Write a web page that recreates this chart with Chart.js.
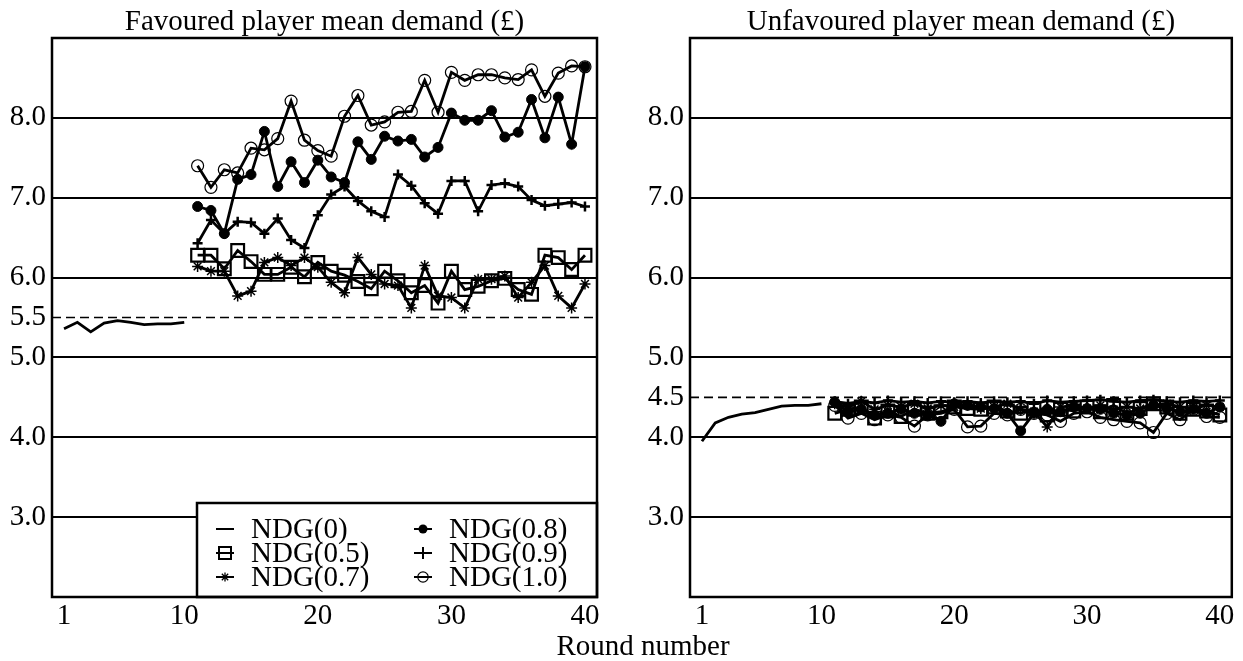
<!DOCTYPE html>
<html><head><meta charset="utf-8">
<script src="https://cdn.jsdelivr.net/npm/chart.js@4/dist/chart.umd.min.js"></script>
<style>
html,body{margin:0;padding:0;background:#fff;}
#wrap{position:relative;width:1243px;height:661px;overflow:hidden;background:#fff;}
#c1{position:absolute;left:0;top:0;}
#c2{position:absolute;left:640px;top:0;}
#xt{position:absolute;left:443px;width:400px;top:631px;text-align:center;font:29px/29px 'Liberation Serif',serif;color:#000;}
</style></head><body>
<div id="wrap">
<canvas id="c1" width="640" height="661"></canvas>
<canvas id="c2" width="603" height="661"></canvas>
<div id="xt">Round number</div>
</div>
<script>
// ---------- data ----------
const seriesLabels = ['NDG(0)', 'NDG(0.5)', 'NDG(0.7)', 'NDG(0.8)', 'NDG(0.9)', 'NDG(1.0)'];
const roundsBaseline = [1, 2, 3, 4, 5, 6, 7, 8, 9, 10];
const roundsTreatment = [11, 12, 13, 14, 15, 16, 17, 18, 19, 20, 21, 22, 23, 24, 25, 26, 27, 28, 29, 30, 31, 32, 33, 34, 35, 36, 37, 38, 39, 40];
const xTickValues = [1, 10, 20, 30, 40];
const favYTicks = [3, 4, 5, 5.5, 6, 7, 8];
const unfavYTicks = [3, 4, 4.5, 5, 6, 7, 8];
const favRef = 5.5;
const unfavRef = 4.5;

// Favoured player mean demand
const favNDG0  = [5.36, 5.44, 5.32, 5.43, 5.46, 5.44, 5.41, 5.42, 5.42, 5.44];
const favNDG05 = [6.28, 6.28, 6.11, 6.34, 6.20, 6.04, 6.04, 6.13, 6.01, 6.19, 6.08, 6.03, 5.95, 5.86, 6.08, 5.96, 5.81, 5.90, 5.68, 6.08, 5.85, 5.89, 5.96, 5.99, 5.85, 5.79, 6.28, 6.25, 6.10, 6.28];
const favNDG07 = [6.14, 6.08, 6.08, 5.77, 5.83, 6.19, 6.25, 6.15, 6.25, 6.13, 5.94, 5.81, 6.25, 6.04, 5.92, 5.90, 5.62, 6.15, 5.77, 5.75, 5.62, 5.98, 5.98, 6.02, 5.75, 5.94, 6.15, 5.77, 5.62, 5.92];
const favNDG08 = [6.89, 6.84, 6.55, 7.23, 7.29, 7.83, 7.14, 7.45, 7.19, 7.47, 7.26, 7.19, 7.70, 7.48, 7.77, 7.71, 7.73, 7.51, 7.63, 8.06, 7.97, 7.97, 8.09, 7.76, 7.82, 8.23, 7.75, 8.26, 7.67, 8.64];
const favNDG09 = [6.43, 6.72, 6.55, 6.70, 6.69, 6.55, 6.74, 6.47, 6.37, 6.78, 7.04, 7.14, 6.96, 6.83, 6.76, 7.29, 7.15, 6.93, 6.80, 7.21, 7.21, 6.83, 7.16, 7.18, 7.14, 6.97, 6.90, 6.92, 6.94, 6.89];
const favNDG10 = [7.40, 7.13, 7.35, 7.31, 7.62, 7.60, 7.74, 8.21, 7.72, 7.59, 7.52, 8.02, 8.28, 7.91, 7.95, 8.07, 8.08, 8.47, 8.07, 8.57, 8.47, 8.54, 8.54, 8.50, 8.48, 8.60, 8.27, 8.56, 8.65, 8.64];

// Unfavoured player mean demand
const unfNDG0  = [3.95, 4.18, 4.25, 4.29, 4.31, 4.35, 4.39, 4.40, 4.40, 4.42];
const unfNDG05 = [4.30, 4.35, 4.38, 4.24, 4.33, 4.26, 4.35, 4.30, 4.32, 4.38, 4.36, 4.35, 4.38, 4.33, 4.30, 4.36, 4.28, 4.35, 4.33, 4.38, 4.32, 4.40, 4.30, 4.36, 4.42, 4.38, 4.30, 4.35, 4.33, 4.28];
const unfNDG07 = [4.42, 4.38, 4.45, 4.35, 4.40, 4.38, 4.42, 4.36, 4.40, 4.38, 4.40, 4.36, 4.38, 4.42, 4.35, 4.32, 4.13, 4.38, 4.40, 4.36, 4.40, 4.35, 4.38, 4.36, 4.40, 4.42, 4.38, 4.36, 4.40, 4.38];
const unfNDG08 = [4.44, 4.32, 4.35, 4.28, 4.30, 4.35, 4.30, 4.28, 4.20, 4.42, 4.40, 4.38, 4.36, 4.30, 4.08, 4.30, 4.35, 4.32, 4.38, 4.36, 4.35, 4.30, 4.28, 4.30, 4.40, 4.36, 4.32, 4.35, 4.30, 4.38];
const unfNDG09 = [4.45, 4.42, 4.45, 4.43, 4.46, 4.44, 4.45, 4.43, 4.45, 4.44, 4.45, 4.43, 4.45, 4.44, 4.45, 4.42, 4.46, 4.44, 4.45, 4.46, 4.47, 4.45, 4.44, 4.46, 4.47, 4.45, 4.44, 4.46, 4.45, 4.46];
const unfNDG10 = [4.40, 4.24, 4.30, 4.22, 4.28, 4.25, 4.14, 4.28, 4.30, 4.35, 4.13, 4.14, 4.30, 4.28, 4.35, 4.30, 4.28, 4.20, 4.30, 4.32, 4.25, 4.22, 4.20, 4.18, 4.06, 4.30, 4.22, 4.35, 4.26, 4.25];

// ---------- styling ----------
const FONT = "'Liberation Serif', 'Times New Roman', serif";
const markerStyles = [
  { pointStyle: 'circle', pointRadius: 0, pointBorderWidth: 0, fill: false },
  { pointStyle: 'rect',   pointRadius: 9, pointBorderWidth: 2.2, fill: false },
  { pointStyle: 'star',   pointRadius: 5.5, pointBorderWidth: 1.5, fill: false },
  { pointStyle: 'circle', pointRadius: 5, pointBorderWidth: 1, fill: true },
  { pointStyle: 'cross',  pointRadius: 5, pointBorderWidth: 2.5, fill: false },
  { pointStyle: 'circle', pointRadius: 6, pointBorderWidth: 1.2, fill: false }
];

function pts(xs, ys) { return xs.map((x, i) => ({ x: x, y: ys[i] })); }

function buildDatasets(series) {
  return series.map((s, i) => {
    const st = markerStyles[i];
    return {
      label: seriesLabels[i],
      data: pts(s.x, s.y),
      borderColor: '#000',
      borderWidth: 2.8,
      pointStyle: st.pointStyle,
      pointRadius: st.pointRadius,
      pointBorderWidth: st.pointBorderWidth,
      pointBorderColor: '#000',
      pointBackgroundColor: st.fill ? '#000' : 'rgba(0,0,0,0)',
      pointHoverRadius: st.pointRadius,
      tension: 0,
      fill: false
    };
  });
}

const refLinePlugin = {
  id: 'refLine',
  beforeDatasetsDraw(chart, args, opts) {
    const { ctx, chartArea: ca, scales } = chart;
    const y = scales.y.getPixelForValue(opts.value);
    ctx.save();
    ctx.strokeStyle = '#000';
    ctx.lineWidth = 1.7;
    ctx.setLineDash([9, 5]);
    ctx.beginPath();
    ctx.moveTo(ca.left, y);
    ctx.lineTo(ca.right, y);
    ctx.stroke();
    ctx.restore();
  }
};

const framePlugin = {
  id: 'frame',
  afterDraw(chart) {
    const { ctx, chartArea: ca } = chart;
    ctx.save();
    ctx.strokeStyle = '#000';
    ctx.lineWidth = 2.5;
    ctx.strokeRect(ca.left, ca.top, ca.right - ca.left, ca.bottom - ca.top);
    ctx.restore();
  }
};

function drawLegendMarker(ctx, i, mx, my) {
  ctx.save();
  ctx.strokeStyle = '#000';
  ctx.fillStyle = '#000';
  ctx.lineWidth = 2;
  ctx.beginPath();
  ctx.moveTo(mx - 9, my);
  ctx.lineTo(mx + 9, my);
  ctx.stroke();
  if (i === 1) {
    ctx.lineWidth = 2;
    ctx.strokeRect(mx - 6, my - 6, 12, 12);
  } else if (i === 2) {
    ctx.lineWidth = 1.3;
    const r = 4.5;
    ctx.beginPath();
    for (let k = 0; k < 4; k++) {
      const a = k * Math.PI / 4;
      ctx.moveTo(mx - r * Math.cos(a), my - r * Math.sin(a));
      ctx.lineTo(mx + r * Math.cos(a), my + r * Math.sin(a));
    }
    ctx.stroke();
  } else if (i === 3) {
    ctx.beginPath();
    ctx.arc(mx, my, 4.5, 0, Math.PI * 2);
    ctx.fill();
  } else if (i === 4) {
    ctx.beginPath();
    ctx.moveTo(mx, my - 6);
    ctx.lineTo(mx, my + 6);
    ctx.stroke();
  } else if (i === 5) {
    ctx.lineWidth = 1.2;
    ctx.beginPath();
    ctx.arc(mx, my, 5.2, 0, Math.PI * 2);
    ctx.stroke();
  }
  ctx.restore();
}

const boxLegendPlugin = {
  id: 'boxLegend',
  afterDatasetsDraw(chart, args, opts) {
    if (!opts.show) return;
    const { ctx, chartArea: ca } = chart;
    const x0 = ca.left + 145, y0 = ca.top + 465;
    ctx.save();
    ctx.fillStyle = '#fff';
    ctx.fillRect(x0, y0, ca.right - x0, ca.bottom - y0);
    ctx.strokeStyle = '#000';
    ctx.lineWidth = 2.5;
    ctx.strokeRect(x0, y0, ca.right - x0, ca.bottom - y0);
    ctx.font = '29px ' + FONT;
    ctx.fillStyle = '#000';
    ctx.textBaseline = 'middle';
    ctx.textAlign = 'left';
    chart.data.datasets.forEach((ds, i) => {
      const col = Math.floor(i / 3), row = i % 3;
      const mx = ca.left + (col ? 371 : 173);
      const my = y0 + 26 + row * 24;
      drawLegendMarker(ctx, i, mx, my);
      ctx.fillText(ds.label, mx + 26, my + 1);
    });
    ctx.restore();
  }
};

function makeChart(id, titleText, series, yTicks, refVal, yAxisWidth, padRight, showLegend) {
  return new Chart(document.getElementById(id), {
    type: 'line',
    data: { datasets: buildDatasets(series) },
    options: {
      responsive: false,
      animation: false,
      devicePixelRatio: 1,
      layout: { padding: { left: 0, right: padRight, top: 0, bottom: 0 } },
      plugins: {
        legend: { display: false },
        tooltip: { enabled: false },
        title: {
          display: true,
          text: titleText,
          color: '#000',
          fullSize: false,
          font: { family: FONT, size: 29, weight: 'normal', lineHeight: 1 },
          padding: { top: 7.5, bottom: 1.5 }
        },
        refLine: { value: refVal },
        boxLegend: { show: showLegend }
      },
      scales: {
        x: {
          type: 'linear',
          min: 0.1,
          max: 40.9,
          grid: { display: false, drawTicks: false },
          border: { display: false },
          ticks: {
            color: '#000',
            font: { family: FONT, size: 29 },
            padding: 2,
            autoSkip: false,
            maxRotation: 0,
            callback: v => String(v)
          },
          afterBuildTicks: a => { a.ticks = xTickValues.map(v => ({ value: v })); },
          afterFit: a => { a.height = 64; }
        },
        y: {
          min: 2,
          max: 9,
          grid: {
            drawTicks: false,
            lineWidth: 2,
            color: c => (c.tick && c.tick.value === refVal) ? 'rgba(0,0,0,0)' : '#000'
          },
          border: { display: false },
          ticks: {
            color: '#000',
            font: { family: FONT, size: 29 },
            padding: 6,
            autoSkip: false,
            callback: v => Number(v).toFixed(1)
          },
          afterBuildTicks: a => { a.ticks = yTicks.map(v => ({ value: v })); },
          afterFit: a => { a.width = yAxisWidth; }
        }
      }
    },
    plugins: [refLinePlugin, boxLegendPlugin, framePlugin]
  });
}

makeChart('c1', 'Favoured player mean demand (£)', [
  { x: roundsBaseline, y: favNDG0 },
  { x: roundsTreatment, y: favNDG05 },
  { x: roundsTreatment, y: favNDG07 },
  { x: roundsTreatment, y: favNDG08 },
  { x: roundsTreatment, y: favNDG09 },
  { x: roundsTreatment, y: favNDG10 }
], favYTicks, favRef, 52, 43, true);

makeChart('c2', 'Unfavoured player mean demand (£)', [
  { x: roundsBaseline, y: unfNDG0 },
  { x: roundsTreatment, y: unfNDG05 },
  { x: roundsTreatment, y: unfNDG07 },
  { x: roundsTreatment, y: unfNDG08 },
  { x: roundsTreatment, y: unfNDG09 },
  { x: roundsTreatment, y: unfNDG10 }
], unfavYTicks, unfavRef, 50, 9, false);
</script>
</body></html>
